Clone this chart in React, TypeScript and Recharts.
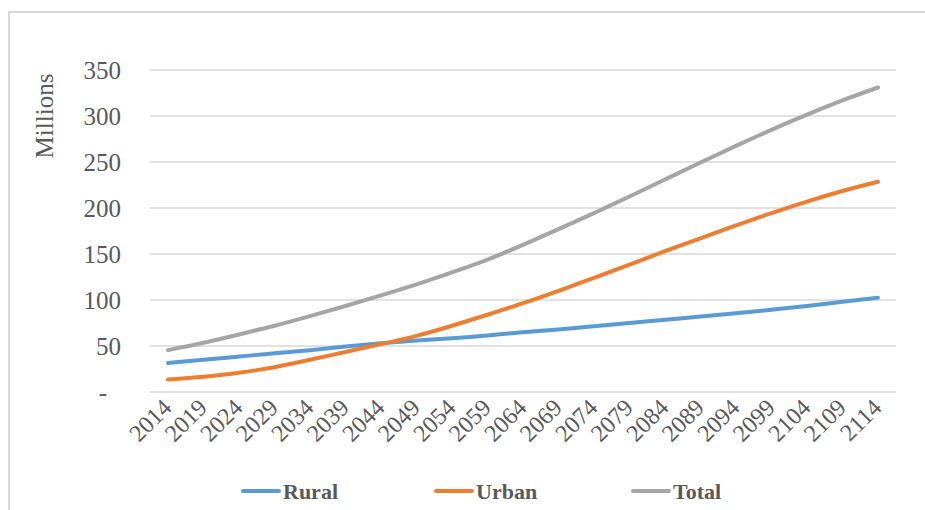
import React from 'react';
import { LineChart, Line, XAxis, YAxis, CartesianGrid, Legend } from 'recharts';

// Population projection, in millions, every five years
const years = [
  '2014', '2019', '2024', '2029', '2034', '2039', '2044', '2049', '2054', '2059', '2064',
  '2069', '2074', '2079', '2084', '2089', '2094', '2099', '2104', '2109', '2114',
];
const rural = [31.5, 35, 38.5, 42, 45.5, 49.5, 53, 56, 58.5, 61.5, 65, 68, 71.5, 75, 78.5, 82, 85.5, 89.5, 93.5, 98, 102.5];
const urban = [13.5, 16.5, 21, 27, 35, 43.5, 52, 61, 72, 84, 96.5, 110, 124, 138.5, 153, 167, 181, 194.5, 207, 218.5, 228.5];
const total = [45.5, 53.5, 62.5, 72, 82.5, 93.5, 105, 117, 130, 144, 160, 177, 194.5, 212.5, 231, 249.5, 267.5, 285, 301.5, 317, 331];
const yTicks = [0, 50, 100, 150, 200, 250, 300, 350];

const series = [
  { key: 'Rural', color: '#5b9bd5' },
  { key: 'Urban', color: '#ed7d31' },
  { key: 'Total', color: '#a5a5a5' },
];

const data = years.map((year, i) => ({
  year,
  Rural: rural[i],
  Urban: urban[i],
  Total: total[i],
}));

const FONT = "'Times New Roman', 'Liberation Serif', serif";
const TEXT = '#595959';
const W = 917;
const H = 499;

const YTick = (props: any) => {
  const { x, y, payload } = props;
  const v = payload.value;
  return (
    <text
      x={v === 0 ? x - 14 : x}
      y={y}
      dy="0.35em"
      textAnchor="end"
      fontFamily={FONT}
      fontSize={25}
      fill={TEXT}
    >
      {v === 0 ? '-' : v}
    </text>
  );
};

const XTick = (props: any) => {
  const { x, y, payload } = props;
  return (
    <g transform={`translate(${x + 5},${y + 17})`}>
      <text
        transform="rotate(-45)"
        textAnchor="end"
        fontFamily={FONT}
        fontSize={24}
        fill={TEXT}
      >
        {payload.value}
      </text>
    </g>
  );
};

const legendX = [231, 424, 621];

const LegendContent = () => (
  <svg width={W - 2} height={30} style={{ display: 'block' }}>
    {series.map((s, i) => (
      <g key={s.key}>
        <line
          x1={legendX[i] + 2}
          x2={legendX[i] + 38}
          y1={15}
          y2={15}
          stroke={s.color}
          strokeWidth={4}
          strokeLinecap="round"
        />
        <text
          x={legendX[i] + 42}
          y={15}
          dy="0.35em"
          fontFamily={FONT}
          fontSize={22}
          fontWeight="bold"
          fill={TEXT}
        >
          {s.key}
        </text>
      </g>
    ))}
  </svg>
);

export default function App() {
  return (
    <div
      style={{
        position: 'fixed',
        left: 8,
        top: 11,
        boxSizing: 'border-box',
        width: W,
        height: H,
        borderTop: '2px solid #d9d9d9',
        borderLeft: '2px solid #d9d9d9',
        background: '#fff',
      }}
    >
      <LineChart
        width={W - 2}
        height={490}
        data={data}
        margin={{ top: 57, right: 29, left: 0, bottom: 21 }}
      >
        <CartesianGrid vertical={false} stroke="#d9d9d9" strokeWidth={1.3} />
        <XAxis
          dataKey="year"
          interval={0}
          axisLine={false}
          tickLine={false}
          tickSize={0}
          tickMargin={0}
          height={60}
          padding={{ left: 18, right: 18 }}
          tick={<XTick />}
        />
        <YAxis
          width={140}
          domain={[0, 350]}
          ticks={yTicks}
          axisLine={false}
          tickLine={false}
          tickSize={0}
          tickMargin={29}
          tick={<YTick />}
          label={{
            content: () => (
              <text
                x={34}
                y={103}
                transform="rotate(-90 34 103)"
                textAnchor="middle"
                dy="0.35em"
                fontFamily={FONT}
                fontSize={25}
                fill={TEXT}
              >
                Millions
              </text>
            ),
          }}
        />
        <Legend
          verticalAlign="bottom"
          content={<LegendContent />}
          wrapperStyle={{ top: 463, left: 0, width: W - 2, height: 30 }}
        />
        {series.map((s) => (
          <Line
            key={s.key}
            type="natural"
            dataKey={s.key}
            stroke={s.color}
            strokeWidth={4}
            strokeLinecap="round"
            dot={false}
            activeDot={false}
            isAnimationActive={false}
          />
        ))}
      </LineChart>
    </div>
  );
}
